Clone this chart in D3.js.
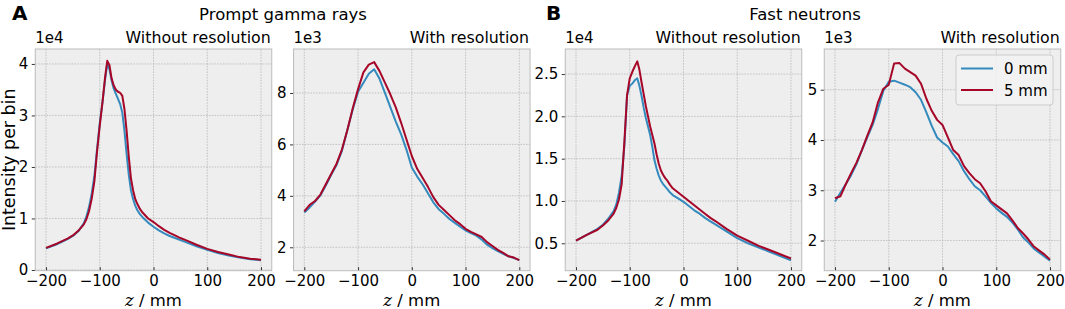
<!DOCTYPE html>
<meta charset="utf-8">
<head>
    <style>
        body { margin: 0; background: #fff; }
        text { font-family: "DejaVu Sans", sans-serif; fill: #000; }
        .grid line { stroke: #b2b2b2; stroke-width: 0.7; stroke-dasharray: 1.6,1.2; }
        .tick line { stroke: #333; }
        .curve { fill: none; stroke-width: 2; stroke-linejoin: round; }
    </style>
    <script src="https://cdn.jsdelivr.net/npm/d3@7"></script>
</head>
<body></body>
<script>

    // z positions (mm) for the unsmeared panels and the smeared ones
    var zSharp = [-200,-180,-160,-150,-140,-130,-125,-120,-115,-110,-105,-100,-95,-90,-86,-82,-78,-74,-70,-66,-62,-58,-54,-50,-46,-42,-38,-34,-30,-25,-20,-10,0,10,20,30,40,50,60,80,100,120,140,160,180,200];
    var zSmooth = d3.range(-200, 201, 10);

    // A: prompt gamma rays without resolution (x 1e4)
    var gammaRaw0 = [0.42,0.50,0.60,0.66,0.75,0.90,1.03,1.22,1.48,1.82,2.35,2.85,3.25,3.70,4.00,3.90,3.68,3.52,3.42,3.32,3.22,3.05,2.70,2.25,1.85,1.55,1.38,1.25,1.16,1.08,1.02,0.92,0.84,0.77,0.71,0.66,0.62,0.58,0.54,0.46,0.39,0.33,0.28,0.24,0.21,0.19];
    var gammaRaw5 = [0.43,0.51,0.61,0.67,0.76,0.88,0.98,1.14,1.38,1.72,2.30,2.80,3.25,3.75,4.06,3.98,3.72,3.58,3.50,3.46,3.44,3.38,3.12,2.70,2.20,1.78,1.55,1.38,1.28,1.18,1.11,1.00,0.93,0.85,0.78,0.72,0.67,0.62,0.58,0.49,0.41,0.35,0.30,0.25,0.22,0.20];
    // A: with resolution (x 1e3)
    var gammaRes0 = [3.35,3.55,3.78,4.02,4.40,4.82,5.20,5.75,6.55,7.35,8.05,8.40,8.75,8.92,8.55,8.00,7.45,6.90,6.40,5.80,5.10,4.75,4.45,4.10,3.75,3.48,3.30,3.10,2.95,2.80,2.66,2.55,2.45,2.30,2.10,1.97,1.85,1.75,1.65,1.58,1.50];
    var gammaRes5 = [3.40,3.65,3.80,4.05,4.45,4.85,5.25,5.80,6.55,7.40,8.15,8.80,9.10,9.20,8.85,8.40,7.95,7.45,6.85,6.20,5.55,5.05,4.70,4.35,3.95,3.65,3.45,3.25,3.05,2.90,2.72,2.60,2.50,2.40,2.20,2.05,1.90,1.78,1.65,1.60,1.50];
    // B: fast neutrons without resolution (x 1e4)
    var neutronRaw0 = [0.53,0.60,0.67,0.72,0.79,0.88,0.96,1.10,1.30,1.65,2.25,2.36,2.39,2.43,2.45,2.36,2.24,2.10,1.98,1.88,1.78,1.64,1.48,1.38,1.30,1.24,1.20,1.17,1.14,1.10,1.07,1.03,0.99,0.94,0.89,0.85,0.80,0.76,0.72,0.64,0.56,0.50,0.45,0.40,0.35,0.30];
    var neutronRaw5 = [0.53,0.60,0.66,0.71,0.77,0.85,0.92,1.02,1.20,1.70,2.25,2.45,2.53,2.60,2.65,2.55,2.40,2.26,2.12,2.00,1.88,1.78,1.68,1.55,1.44,1.36,1.31,1.27,1.24,1.19,1.15,1.10,1.05,1.00,0.95,0.90,0.85,0.80,0.76,0.67,0.59,0.53,0.47,0.42,0.37,0.32];
    // B: with resolution (x 1e3)
    var neutronRes0 = [2.77,2.95,3.12,3.30,3.52,3.80,4.05,4.30,4.62,4.98,5.16,5.18,5.14,5.10,5.05,4.95,4.80,4.55,4.28,4.05,3.95,3.87,3.72,3.58,3.38,3.22,3.08,3.00,2.88,2.75,2.64,2.55,2.47,2.36,2.22,2.06,1.96,1.84,1.76,1.68,1.60];
    var neutronRes5 = [2.84,2.88,3.12,3.34,3.55,3.80,4.08,4.35,4.75,5.02,5.10,5.52,5.53,5.42,5.35,5.28,5.12,4.82,4.58,4.40,4.30,4.05,3.80,3.70,3.48,3.34,3.22,3.14,2.98,2.78,2.70,2.62,2.54,2.40,2.25,2.14,2.02,1.88,1.80,1.72,1.62];

    var xTicks = [-200, -100, 0, 100, 200];
    var seriesNames = ["0 mm", "5 mm"];
    var colors = ["#348ABD", "#A60628"];

    var svgW = 1065, svgH = 309,
        plotTop = 49, plotBottom = 270.7, panelW = 236.5;

    var svg = d3.select("body").append("svg")
        .attr("width", svgW)
        .attr("height", svgH);

    var minus = function(s) { return String(s).replace("-", "\u2212"); };

    function drawPanel(left, z, s0, s5, ylim, yTicks, yFmt, exp, subtitle, showYLabel) {

        var x = d3.scaleLinear().domain([-220, 220]).range([left, left + panelW]),
            y = d3.scaleLinear().domain(ylim).range([plotBottom, plotTop]);

        var g = svg.append("g");

        g.append("rect")
            .attr("x", left).attr("y", plotTop)
            .attr("width", panelW).attr("height", plotBottom - plotTop)
            .attr("fill", "#eeeeee");

        //dashed grid, looks dotted at this size
        var grid = g.append("g").attr("class", "grid");
        grid.selectAll(".gx").data(xTicks).enter().append("line")
            .attr("x1", function(d) { return x(d); }).attr("x2", function(d) { return x(d); })
            .attr("y1", plotTop).attr("y2", plotBottom);
        grid.selectAll(".gy").data(yTicks).enter().append("line")
            .attr("x1", left).attr("x2", left + panelW)
            .attr("y1", function(d) { return y(d); }).attr("y2", function(d) { return y(d); });

        //x ticks point in, y ticks point out
        var xAxis = g.append("g")
            .attr("transform", "translate(0," + plotBottom + ")")
            .call(d3.axisBottom(x).tickValues(xTicks).tickSizeInner(-3.5).tickSizeOuter(0).tickPadding(4.5).tickFormat(minus));
        var yAxis = g.append("g")
            .attr("transform", "translate(" + left + ",0)")
            .call(d3.axisLeft(y).tickValues(yTicks).tickSizeInner(3.5).tickSizeOuter(0).tickPadding(3.5).tickFormat(yFmt));
        [xAxis, yAxis].forEach(function(a) {
            a.select(".domain").remove();
            a.selectAll("text").style("font-size", "15px").style("font-family", "DejaVu Sans");
        });

        var line = d3.line()
            .x(function(d, i) { return x(z[i]); })
            .y(function(d) { return y(d); });

        [s0, s5].forEach(function(s, i) {
            g.append("path")
                .datum(s)
                .attr("class", "curve")
                .attr("stroke", colors[i])
                .attr("d", line);
        });

        g.append("rect")
            .attr("x", left).attr("y", plotTop)
            .attr("width", panelW).attr("height", plotBottom - plotTop)
            .attr("fill", "none").attr("stroke", "#bcbcbc").attr("stroke-width", 1);

        g.append("text").attr("x", left).attr("y", 43)
            .style("font-size", "15px").text(exp);
        g.append("text").attr("x", left + panelW - 1).attr("y", 43)
            .attr("text-anchor", "end").style("font-size", "15.8px").text(subtitle);

        var xl = g.append("text")
            .attr("x", left + panelW / 2).attr("y", 306)
            .attr("text-anchor", "middle").style("font-size", "16.5px");
        xl.append("tspan").style("font-family", "DejaVu Serif").style("font-style", "italic").text("z");
        xl.append("tspan").text(" / mm");

        if (showYLabel) {
            g.append("text")
                .attr("transform", "translate(15," + (plotTop + plotBottom) / 2 + ") rotate(-90)")
                .attr("text-anchor", "middle").style("font-size", "17.4px")
                .text("Intensity per bin");
        }
        return x;
    }

    var fmtInt = d3.format("d"), fmt1 = d3.format(".1f");

    drawPanel(35.25, zSharp, gammaRaw0, gammaRaw5, [-0.014, 4.29], [0, 1, 2, 3, 4], fmtInt, "1e4", "Without resolution", true);
    drawPanel(293.55, zSmooth, gammaRes0, gammaRes5, [1.09, 9.71], [2, 4, 6, 8], fmtInt, "1e3", "With resolution", false);
    drawPanel(565.25, zSharp, neutronRaw0, neutronRaw5, [0.176, 2.796], [0.5, 1.0, 1.5, 2.0, 2.5], fmt1, "1e4", "Without resolution", false);
    drawPanel(824.25, zSmooth, neutronRes0, neutronRes5, [1.40, 5.81], [2, 3, 4, 5], fmtInt, "1e3", "With resolution", false);

    //panel letters and group titles
    svg.append("text").attr("x", 12).attr("y", 20)
        .style("font-size", "20px").style("font-weight", "bold").text("A");
    svg.append("text").attr("x", 546).attr("y", 20)
        .style("font-size", "20px").style("font-weight", "bold").text("B");
    svg.append("text").attr("x", 283).attr("y", 20)
        .attr("text-anchor", "middle").style("font-size", "16.5px").text("Prompt gamma rays");
    svg.append("text").attr("x", 805).attr("y", 20)
        .attr("text-anchor", "middle").style("font-size", "16.5px").text("Fast neutrons");

    //legend in the last panel
    var legend = svg.append("g");
    legend.append("rect")
        .attr("x", 956).attr("y", 55).attr("width", 97).attr("height", 50)
        .attr("rx", 3).attr("fill", "#f2f2f2").attr("fill-opacity", 0.85)
        .attr("stroke", "#cccccc");
    seriesNames.forEach(function(name, i) {
        var ly = 68.5 + i * 21.5;
        legend.append("line")
            .attr("x1", 961).attr("x2", 993).attr("y1", ly).attr("y2", ly)
            .attr("stroke", colors[i]).attr("stroke-width", 2);
        legend.append("text").attr("x", 1004).attr("y", ly + 5.5)
            .style("font-size", "15px").text(name);
    });

</script>
